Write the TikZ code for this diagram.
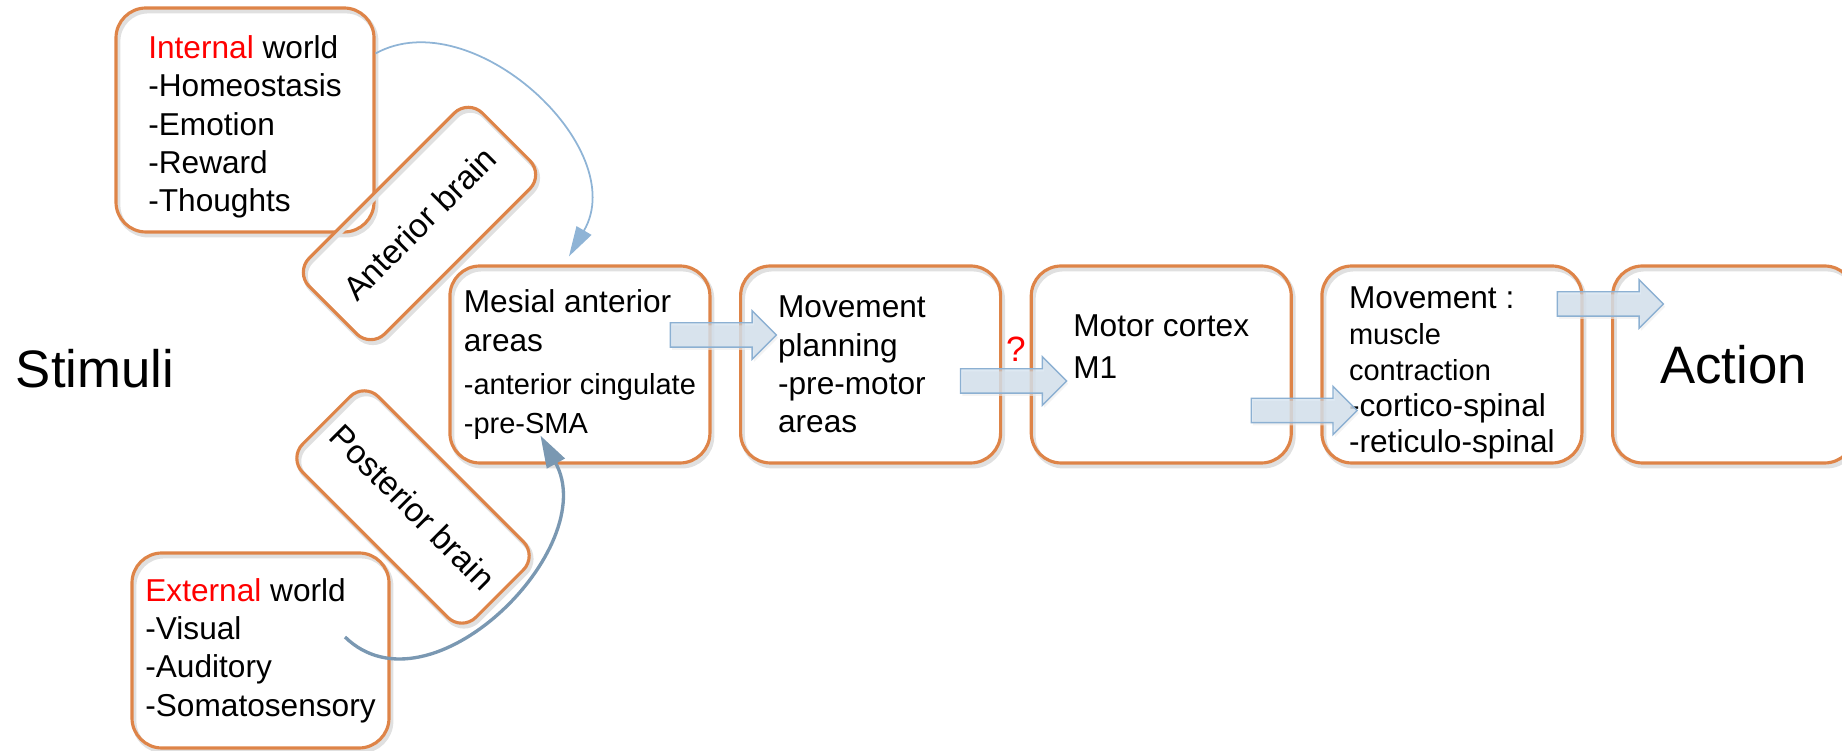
\documentclass[tikz,border=0pt]{standalone}
\usepackage{fontspec}
\setmainfont{Liberation Sans}
\usepackage{tikz}
\usetikzlibrary{positioning,calc,shapes.arrows,arrows.meta}
\definecolor{boxline}{RGB}{222,132,72}
\definecolor{arcline}{RGB}{143,180,214}
\definecolor{arcdark}{RGB}{122,152,178}
\definecolor{arrowline}{RGB}{140,176,210}
\definecolor{arrowfill}{RGB}{200,218,234}
\definecolor{hotword}{RGB}{255,0,0}

\begin{document}
\begin{tikzpicture}[
box/.style={draw=boxline,line width=1.8pt,rectangle,rounded corners=0.6cm,
    minimum width=5.2cm,minimum height=3.94cm,inner sep=0pt,align=left,
    font=\fontsize{18}{21.8}\selectfont,
    preaction={draw=black!12,line width=2.6pt,transform canvas={shift={(1.2pt,-1.8pt)}}}},
slant/.style={box,rounded corners=0.4cm,minimum width=4.9cm,minimum height=2.14cm,
    align=center,font=\fontsize{19}{23}\selectfont},
fatarrow/.style={single arrow,draw=arrowline,line width=0.8pt,fill=arrowfill,
    fill opacity=0.6,single arrow head extend=0.24cm,inner sep=0.23cm,
    minimum height=2.12cm,
    preaction={fill=black!8,transform canvas={shift={(1pt,-1.5pt)}}}},
big/.style={font=\fontsize{30}{36}\selectfont}]
\useasboundingbox (0,0) rectangle (36.84,15.02);
\matrix (chain) [column sep=0.55cm,inner sep=0pt,anchor=west] at (8.96,7.73) {
\node (mesial) [box] {Mesial anterior\\areas\\[3pt]
    {\fontsize{16.5}{20}\selectfont -anterior cingulate}\\
    {\fontsize{16.5}{20}\selectfont -pre-SMA}};
&
\node (planning) [box,text width=3.7cm] {Movement\\planning\\-pre-motor\\areas};
&
\node (motor) [box,text depth=0.72cm] {Motor cortex\\[2pt]M1};
&
\node (movement) [box,font=\fontsize{18}{20.6}\selectfont,text height=3.67cm,text depth=0.13cm]
    {Movement :\\
    {\fontsize{16.5}{20}\selectfont muscle}\\
    {\fontsize{16.5}{20}\selectfont contraction}\\
    -cortico-spinal\\-reticulo-spinal};
&
\node (action) [box,minimum width=4.84cm,big] {Action};
\\
};
\node (stimuli) [big] at (1.9,7.64) {Stimuli};
\node (internal) [box,minimum width=5.16cm,minimum height=4.48cm,text height=3.8cm] at (4.9,12.62)
    {\textcolor{hotword}{Internal} world\\-Homeostasis\\-Emotion\\-Reward\\-Thoughts};
\node (external) [box,minimum width=5.14cm,minimum height=3.9cm] at (5.21,2.01)
    {\textcolor{hotword}{External} world\\-Visual\\-Auditory\\-Somatosensory};
\node (anterior) [slant,rotate=45] at (8.39,10.55) {Anterior brain};
\node (posterior) [slant,rotate=-45] at (8.26,4.88) {Posterior brain};
\node (query) [text=hotword,font=\fontsize{20}{24}\selectfont]
    at ($(planning.east)!0.5!(motor.west)+(0,0.3)$) {?};
\node (a1) [fatarrow] at ($(mesial.east)!0.5!(planning.west)+(-0.16,0.59)$) {};
\node (a2) [fatarrow] at ($(planning.east)!0.5!(motor.west)+(-0.17,-0.33)$) {};
\node (a3) [fatarrow] at ($(motor.east)!0.5!(movement.west)+(-0.17,-0.92)$) {};
\node (a4) [fatarrow] at ($(movement.east)!0.5!(action.west)+(0.14,1.21)$) {};
\draw [arcline,line width=1pt,-{Triangle[length=0.6cm,width=0.34cm]}]
    (internal.27) .. controls +(1.92,1.06) and +(1.26,2.16)
    .. ([xshift=-0.22cm,yshift=0.16cm]mesial.north);
\draw [arcdark,line width=1.9pt,-{Triangle[length=0.64cm,width=0.4cm]}]
    ([xshift=1.69cm,yshift=0.27cm]external.center) .. controls +(1.7,-1.66) and +(1.24,-2.24)
    .. ([xshift=-0.79cm,yshift=0.58cm]mesial.south);
\end{tikzpicture}
\end{document}
